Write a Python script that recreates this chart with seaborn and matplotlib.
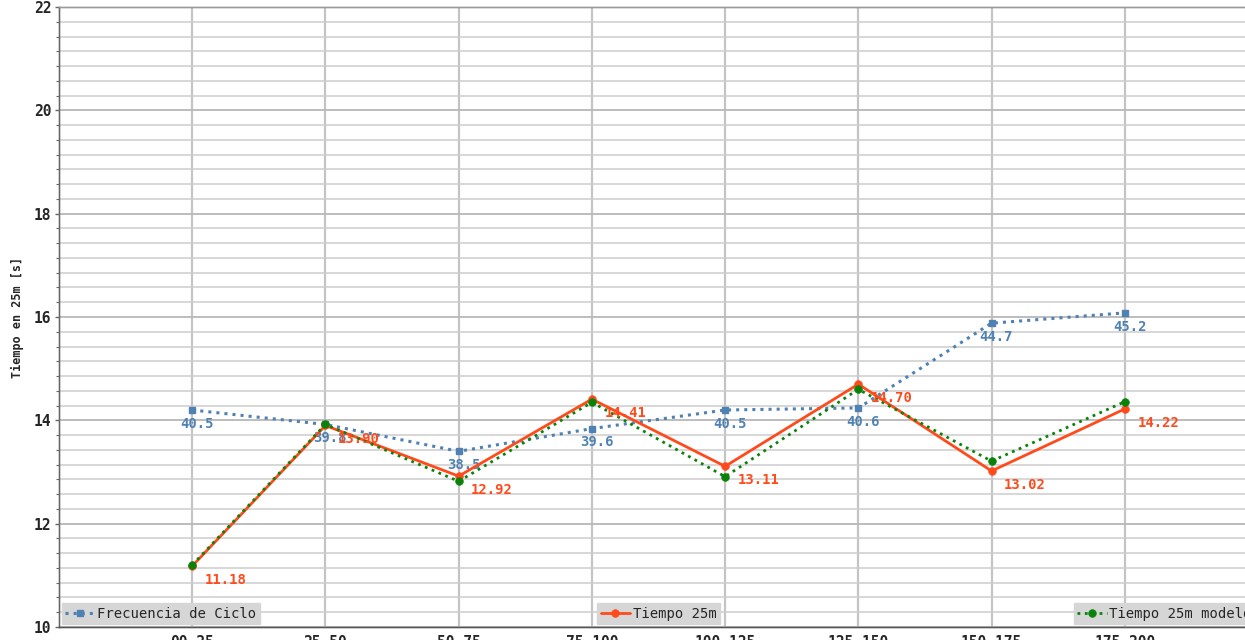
import matplotlib
matplotlib.use("Agg")
import matplotlib.pyplot as plt
from matplotlib.ticker import MultipleLocator
import numpy as np
import pandas as pd
import seaborn as sns

# Tramos de distancia (m)
tramos = ["00-25", "25-50", "50-75", "75-100", "100-125", "125-150", "150-175", "175-200"]

# Frecuencia de ciclo (eje secundario)
frecuencia = [40.5, 39.8, 38.5, 39.6, 40.5, 40.6, 44.7, 45.2]

# Tiempo medido en cada tramo de 25 m [s]
tiempo_25m = [11.18, 13.90, 12.92, 14.41, 13.11, 14.70, 13.02, 14.22]

# Tiempo estimado por el modelo [s]
tiempo_modelo = [11.20, 13.92, 12.82, 14.35, 12.91, 14.60, 13.21, 14.36]

df = pd.DataFrame({
    "pos": np.arange(len(tramos)),
    "tramo": tramos,
    "frecuencia": frecuencia,
    "tiempo": tiempo_25m,
    "modelo": tiempo_modelo,
})

sns.set_style("white")
MONO = "DejaVu Sans Mono"
plt.rcParams["font.family"] = [MONO, "DejaVu Sans"]

C_FREQ = "#4f82b3"
C_TIEMPO = "#ff4a1c"
C_MODELO = "#0a820a"

fig = plt.figure(figsize=(12.45, 6.4), dpi=100)
ax = fig.add_axes([59 / 1245, 13 / 640, 1199 / 1245, 620 / 640])
ax2 = ax.twinx()

# Frecuencia en el eje secundario
sns.lineplot(data=df, x="pos", y="frecuencia", ax=ax2, color=C_FREQ,
             linestyle=":", linewidth=2.2, marker="s", markersize=5,
             markeredgewidth=1, markeredgecolor=C_FREQ, markerfacecolor=C_FREQ,
             label="Frecuencia de Ciclo", legend=False, sort=False)

# Tiempos en el eje principal
sns.lineplot(data=df, x="pos", y="tiempo", ax=ax, color=C_TIEMPO,
             linestyle="-", linewidth=2, marker="o", markersize=5.5,
             markeredgewidth=0.5, markeredgecolor=C_TIEMPO,
             label="Tiempo 25m", legend=False, sort=False)
sns.lineplot(data=df, x="pos", y="modelo", ax=ax, color=C_MODELO,
             linestyle=":", linewidth=2, marker="o", markersize=5.5,
             markeredgewidth=0.5, markeredgecolor=C_MODELO,
             label="Tiempo 25m modelo", legend=False, sort=False)

# Etiquetas de valores
for x, v in zip(df["pos"], df["frecuencia"]):
    ax2.annotate(f"{v:.1f}", (x, v), xytext=(3.5, -10), textcoords="offset points",
                 ha="center", va="center", color=C_FREQ, fontsize=10,
                 fontweight="bold", family=MONO)
for x, v in zip(df["pos"], df["tiempo"]):
    ax.annotate(f"{v:.2f}", (x, v), xytext=(9, -10), textcoords="offset points",
                ha="left", va="center", color=C_TIEMPO, fontsize=10,
                fontweight="bold", family=MONO)

# Escalas
ax.set_xlim(-1, len(tramos))
ax.set_ylim(10, 22)
ax2.set_ylim(30, 60)
ax.set_xticks(df["pos"], labels=df["tramo"])
ax.yaxis.set_major_locator(MultipleLocator(2))
ax.yaxis.set_minor_locator(MultipleLocator(2 / 7))

# El eje secundario comparte la rejilla: 5 unidades = 2 s, 5/7 = 2/7 s
ax2.yaxis.set_major_locator(MultipleLocator(5))
ax2.yaxis.set_minor_locator(MultipleLocator(5 / 7))
ax2.tick_params(axis="y", which="both", length=0, labelright=False)
ax2.xaxis.set_visible(True)
ax2.tick_params(axis="x", which="both", length=0, labelbottom=False, labeltop=False)

ax2.set_ylabel("")
ax2.set_xlabel("")
ax.set_xlabel("")
ax.set_ylabel("Tiempo en 25m [s]", fontsize=8.5, fontweight="bold", family=MONO,
              labelpad=7)

for lab in ax.get_xticklabels() + ax.get_yticklabels():
    lab.set_fontweight("bold")
    lab.set_family(MONO)
    lab.set_fontsize(10.5)

ax.tick_params(axis="y", which="major", length=3, width=1, pad=2.5, color="#666666")
ax.tick_params(axis="y", which="minor", length=2, width=0.8, color="#666666")
ax.tick_params(axis="x", which="major", length=3, pad=3, color="#666666")

# Rejilla (dibujada en el eje de fondo)
ax.grid(False)
ax2.grid(which="major", axis="x", color="#c4c4c4", linewidth=1.6)
ax2.grid(which="major", axis="y", color="#b8b8b8", linewidth=1.3)
ax2.grid(which="minor", axis="y", color="#cdcdcd", linewidth=1.1)
ax2.set_axisbelow(True)

for a in (ax, ax2):
    for s in a.spines.values():
        s.set_color("#9a9a9a")
        s.set_linewidth(1)
ax.spines["left"].set_color("#666666")
ax.spines["bottom"].set_color("#555555")

# El eje principal por encima para que sus etiquetas queden delante
ax.set_zorder(ax2.get_zorder() + 1)
ax.patch.set_visible(False)

# Leyendas separadas
h_freq = ax2.get_lines()[0]
h_t, h_m = ax.get_lines()[0], ax.get_lines()[1]
leg_kw = dict(prop={"family": MONO, "size": 10}, frameon=True, fancybox=False,
              facecolor="#d6d6d6", edgecolor="#d6d6d6", framealpha=1,
              borderpad=0.25, handlelength=2.1, handletextpad=0.2,
              borderaxespad=0.2)
leg1 = ax.legend(handles=[h_freq], labels=["Frecuencia de Ciclo"], loc="lower left", **leg_kw)
ax.add_artist(leg1)
leg2 = ax.legend(handles=[h_t], labels=["Tiempo 25m"], loc="lower center", **leg_kw)
ax.add_artist(leg2)
ax.legend(handles=[h_m], labels=["Tiempo 25m modelo"], loc="lower right", **leg_kw)

fig.savefig("out.png", dpi=100, facecolor="white")
